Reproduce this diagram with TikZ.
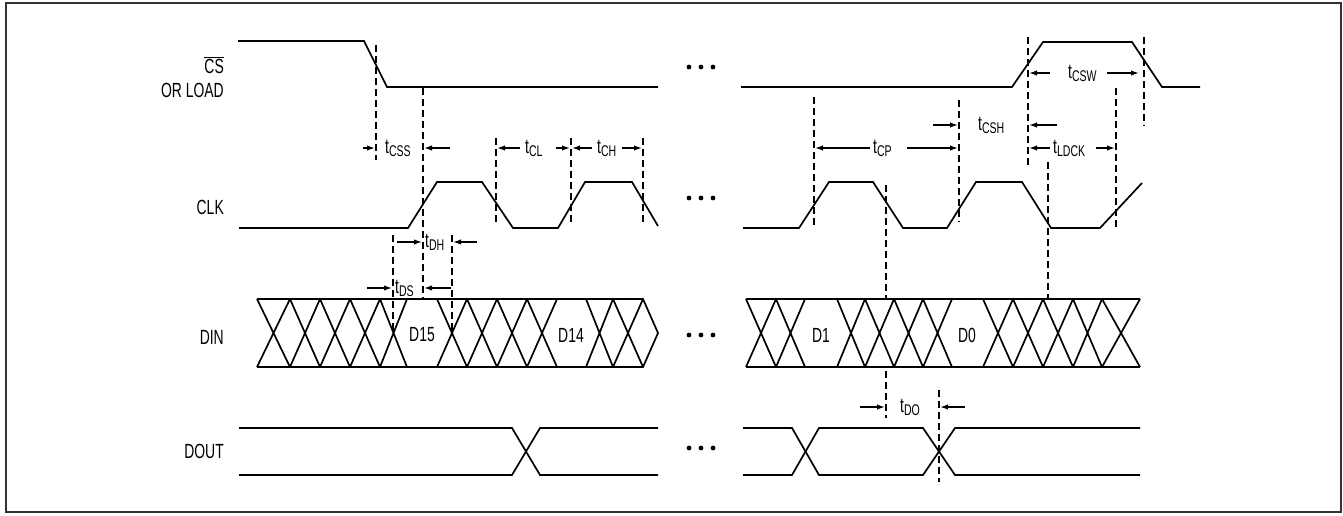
\documentclass[tikz,border=0pt]{standalone}
\usepackage{fontspec}
\setmainfont{Liberation Sans}
\usepackage{graphicx}
\usetikzlibrary{arrows.meta}
\newcommand{\nar}[1]{\scalebox{0.68}[1]{#1}}
\newcommand{\tlab}[1]{\nar{\fontsize{20.5}{22}\selectfont t\raisebox{-3.8pt}{\fontsize{15.5}{16}\selectfont #1}}}
\tikzset{
  sig/.style={line width=1.7, black},
  dimline/.style={dash pattern=on 7pt off 4pt, line width=1.5},
  arr/.style={line width=1.5, -{Latex[length=8pt,width=5.5pt]}},
  signame/.style={inner sep=0, anchor=east, font=\fontsize{20.5}{22}\selectfont},
  dataname/.style={inner sep=0, font=\fontsize{20.5}{22}\selectfont},
  tl/.style={inner sep=0, anchor=base west},
  dot/.style={fill=black}
}
\begin{document}
\begin{tikzpicture}[x=1pt,y=-1pt]
\useasboundingbox (0,0) rectangle (1343,515);
\draw[line width=1.6, black!80] (6,3) rectangle (1341,512);

% signal names
\node[signame] (cs) at (224,65) {\nar{$\overline{\hbox{CS}}$}};
\node[signame] (load) at (224,90) {\nar{OR LOAD}};
\node[signame] (clk) at (224,207) {\nar{CLK}};
\node[signame] (din) at (224,337) {\nar{DIN}};
\node[signame] (dout) at (224,451) {\nar{DOUT}};

% CS
\draw[sig] (238,41) -- (364,41) -- (387,87) -- (658,87);
\draw[sig] (741,87) -- (1012,87) -- (1043,42) -- (1132,42) -- (1162,87) -- (1200,87);

% CLK
\draw[sig] (239,228) -- (408,228) -- (437,182) -- (482,182) -- (513,228) -- (558,228)
  -- (585,182) -- (632,182) -- (658,226);
\draw[sig] (743,228) -- (799,228) -- (829,182) -- (873,182) -- (903,228) -- (947,228)
  -- (976,182) -- (1022,182) -- (1051,228) -- (1100,228) -- (1142,183);

% DIN
\draw[sig] (257,299) -- (643,299) -- (658,333) -- (643,367) -- (257,367);
\foreach \a/\b in {257/290,290/320,320/350,350/380,380/407,437/467,467/497,497/527,527/557,586/613,613/643}
  {\draw[sig] (\a,299) -- (\b,367) (\a,367) -- (\b,299);}
\draw[sig] (746,299) -- (1140,299) (746,367) -- (1140,367);
\foreach \a/\b in {746/776,776/805,837/865,865/894,894/923,923/952,983/1013,1013/1043,1043/1073,1073/1102,1102/1140}
  {\draw[sig] (\a,299) -- (\b,367) (\a,367) -- (\b,299);}
\node[dataname] (d15) at (422,335) {\nar{D15}};
\node[dataname] (d14) at (571,335) {\nar{D14}};
\node[dataname] (d1) at (821,335) {\nar{D1}};
\node[dataname] (d0) at (967,335) {\nar{D0}};

% DOUT
\draw[sig] (239,428) -- (512,428) -- (540,475) -- (658,475);
\draw[sig] (239,475) -- (512,475) -- (540,428) -- (658,428);
\draw[sig] (743,428) -- (792,428) -- (819,475) -- (923,475) -- (955,428) -- (1140,428);
\draw[sig] (743,475) -- (792,475) -- (819,428) -- (923,428) -- (955,475) -- (1140,475);

% ellipsis dots
\foreach \y in {67,198,335,448}
  \foreach \x in {689,701,713}
    \fill[dot] (\x,\y) circle (2.4);

% dashed reference lines
\draw[dimline] (376,45) -- (376,160);
\draw[dimline] (423,88) -- (423,298);
\draw[dimline] (496,138) -- (496,225);
\draw[dimline] (571,138) -- (571,225);
\draw[dimline] (643,138) -- (643,225);
\draw[dimline] (393,235) -- (393,333);
\draw[dimline] (452,235) -- (452,333);
\draw[dimline] (814,97) -- (814,228);
\draw[dimline] (886,185) -- (886,298);
\draw[dimline] (886,371) -- (886,418);
\draw[dimline] (959,100) -- (959,222);
\draw[dimline] (1028,37) -- (1028,166);
\draw[dimline] (1048,162) -- (1048,298);
\draw[dimline] (1116,88) -- (1116,228);
\draw[dimline] (1144,37) -- (1144,126);
\draw[dimline] (939,390) -- (939,482);

% timing labels and arrows
\node[tl] (tcss) at (385,153) {\tlab{CSS}};
\draw[arr] (363,148) -- (375,148);
\draw[arr] (450,148) -- (424,148);

\node[tl] (tcl) at (525,153) {\tlab{CL}};
\draw[arr] (520,148) -- (497,148);
\draw[arr] (556,148) -- (570,148);

\node[tl] (tch) at (597,153) {\tlab{CH}};
\draw[arr] (592,148) -- (572,148);
\draw[arr] (622,148) -- (642,148);

\node[tl] (tdh) at (425,247) {\tlab{DH}};
\draw[arr] (397,242) -- (422,242);
\draw[arr] (477,242) -- (453,242);

\node[tl] (tds) at (395,293) {\tlab{DS}};
\draw[arr] (367,288) -- (392,288);
\draw[arr] (451,288) -- (424,288);

\node[tl] (tcsw) at (1068,78) {\tlab{CSW}};
\draw[arr] (1050,73) -- (1029,73);
\draw[arr] (1107,73) -- (1139,73);

\node[tl] (tcsh) at (978,130) {\tlab{CSH}};
\draw[arr] (933,125) -- (958,125);
\draw[arr] (1057,125) -- (1029,125);

\node[tl] (tcp) at (873,153) {\tlab{CP}};
\draw[arr] (870,148) -- (815,148);
\draw[arr] (907,148) -- (958,148);

\node[tl] (tldck) at (1053,153) {\tlab{LDCK}};
\draw[arr] (1050,148) -- (1029,148);
\draw[arr] (1096,148) -- (1115,148);

\node[tl] (tdo) at (900,412) {\tlab{DO}};
\draw[arr] (860,407) -- (885,407);
\draw[arr] (965,407) -- (940,407);
\end{tikzpicture}
\end{document}
